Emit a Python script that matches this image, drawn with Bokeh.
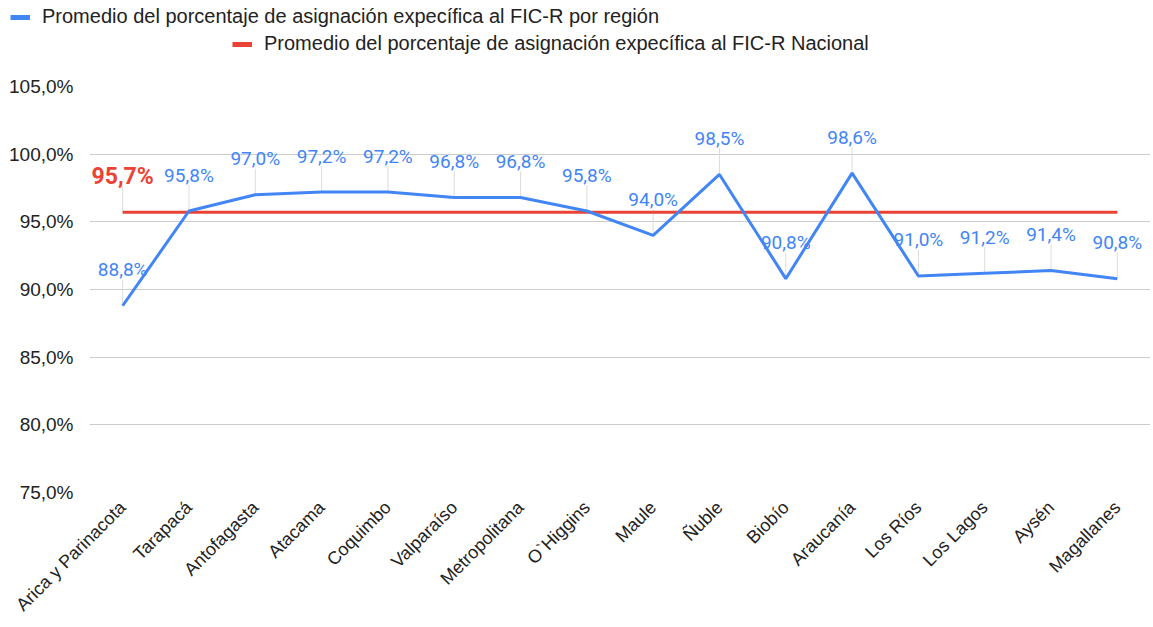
import math
from bokeh.plotting import figure
from bokeh.models import (FactorRange, Range1d, FixedTicker, CustomJSTickFormatter,
                          Legend, LegendItem, ColumnDataSource)
from bokeh.core.properties import value
from bokeh.embed import file_html
from bokeh.resources import INLINE

regiones = ["Arica y Parinacota", "Tarapacá", "Antofagasta", "Atacama", "Coquimbo",
            "Valparaíso", "Metropolitana", "O`Higgins", "Maule", "Ñuble", "Biobío",
            "Araucanía", "Los Ríos", "Los Lagos", "Aysén", "Magallanes"]
promedio_region = [88.8, 95.8, 97.0, 97.2, 97.2, 96.8, 96.8, 95.8, 94.0, 98.5,
                   90.8, 98.6, 91.0, 91.2, 91.4, 90.8]
promedio_nacional = 95.7
y_ticks = [75, 80, 85, 90, 95, 100, 105]
serie_region = "Promedio del porcentaje de asignación expecífica al FIC-R por región"
serie_nacional = "Promedio del porcentaje de asignación expecífica al FIC-R Nacional"

BLUE = "#4285F4"
RED = "#EA4335"
W = 1150
LEG_H = 70

def fmt(v):
    return f"{v:.1f}".replace(".", ",") + "%"

src = ColumnDataSource(dict(
    x=regiones,
    y=promedio_region,
    nac=[promedio_nacional] * len(regiones),
    lbl=[fmt(v) for v in promedio_region],
))
red_src = ColumnDataSource(dict(x=regiones[:1], y=[promedio_nacional], lbl=[fmt(promedio_nacional)]))

# ---------- legend strip ----------
lg = figure(width=W, height=LEG_H, x_range=Range1d(0, 1), y_range=Range1d(0, 1),
            output_backend="svg", toolbar_location=None, x_axis_type=None, y_axis_type=None,
            min_border_left=0, min_border_right=0, min_border_top=0, min_border_bottom=0)
lg.outline_line_color = None
lg.grid.visible = False
sw_reg = lg.line(x=[0, 1], y=[-5, -5], line_color=BLUE, line_width=5)
sw_nac = lg.line(x=[0, 1], y=[-5, -5], line_color=RED, line_width=5)
common = dict(label_text_font="Liberation Sans", label_text_font_size="20px",
              label_text_color="#222222", border_line_alpha=0, background_fill_alpha=0,
              glyph_width=20, glyph_height=20, padding=0, spacing=0, margin=0,
              label_standoff=12, label_height=20)
leg1 = Legend(items=[LegendItem(label=serie_region, renderers=[sw_reg])],
              location=(10, LEG_H - 28), **common)
leg2 = Legend(items=[LegendItem(label=serie_nacional, renderers=[sw_nac])],
              location=(232, LEG_H - 55), **common)
lg.add_layout(leg1, "center")
lg.add_layout(leg2, "center")

# ---------- main chart ----------
p = figure(width=W, height=16 + 406 + 132, x_range=FactorRange(*regiones),
           y_range=Range1d(75, 105), output_backend="svg", toolbar_location=None,
           min_border_left=89, min_border_right=0, min_border_top=86 - LEG_H,
           min_border_bottom=132)
p.outline_line_color = None
p.background_fill_color = "white"

p.xgrid.grid_line_color = None
p.ygrid.grid_line_color = "#cccccc"
p.ygrid.grid_line_width = 1
p.yaxis.ticker = FixedTicker(ticks=y_ticks)
p.yaxis.formatter = CustomJSTickFormatter(code="return tick.toFixed(1).replace('.', ',') + '%';")
for ax in (p.xaxis, p.yaxis):
    ax.axis_line_color = None
    ax.major_tick_line_color = None
    ax.minor_tick_line_color = None
    ax.major_label_text_font = "Liberation Sans"
    ax.major_label_text_color = "#222222"
p.xaxis.major_label_text_font_size = "18px"
p.yaxis.major_label_text_font_size = "19px"
p.yaxis.major_label_standoff = 10
p.xaxis.major_label_orientation = math.pi / 4
p.xaxis.major_label_standoff = 6

# leader lines
p.ray(x="x", y="y", length=26, length_units="screen", angle=math.pi / 2,
      line_color="#dddddd", line_width=1, source=src)
p.ray(x="x", y="y", length=26, length_units="screen", angle=math.pi / 2,
      line_color="#dddddd", line_width=1, source=red_src)

# series
p.line(x="x", y="nac", line_color=RED, line_width=3, source=src)
p.line(x="x", y="y", line_color=BLUE, line_width=3, source=src)

# data labels
p.text(x="x", y="y", text="lbl", source=src, text_color=BLUE,
       text_font=value("Roboto"), text_font_size="19px", text_align="center",
       text_baseline="middle", y_offset=-36)
p.text(x="x", y="y", text="lbl", source=red_src, text_color=RED,
       text_font=value("Roboto"), text_font_style="bold", text_font_size="23px",
       text_align="center", text_baseline="middle", y_offset=-36)

open("out.html", "w").write(file_html([lg, p], INLINE))
